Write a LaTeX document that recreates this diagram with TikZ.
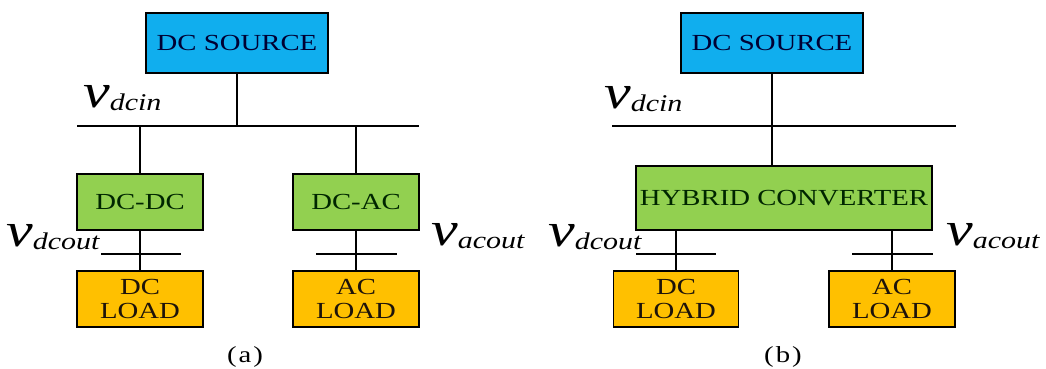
\documentclass[tikz,border=0pt]{standalone}
\usepackage{fontspec}
\setmainfont[FakeStretch=1.25]{Liberation Serif}
\definecolor{srcblue}{HTML}{10AEEE}
\definecolor{convgreen}{HTML}{92D050}
\definecolor{loadorange}{HTML}{FFC000}
\newcommand\vlab[1]{{\fontsize{48}{48}\selectfont\itshape v\raisebox{-3pt}{\fontsize{24}{24}\selectfont #1}}}
\tikzset{
  blk/.style={draw=black, line width=1.6pt, inner sep=0pt, align=center,
    font=\fontsize{23}{23.5}\selectfont},
  srcbox/.style={blk, fill=srcblue, text=black!80!blue, minimum width=182pt, minimum height=60pt},
  convbox/.style={blk, fill=convgreen, text=black!85!green, minimum width=126pt, minimum height=56pt},
  loadbox/.style={blk, fill=loadorange, text=black!85!brown, minimum width=126pt, minimum height=56pt},
  wire/.style={draw=black, line width=1.6pt},
  vlabel/.style={anchor=base west, inner sep=0pt},
  caplabel/.style={inner sep=0pt, font=\fontsize{23}{23}\selectfont}
}
\begin{document}
\begin{tikzpicture}[x=1pt,y=-1pt]
\useasboundingbox (0,0) rectangle (1046,369);
% ---------- panel (a) ----------
\node[srcbox] (srcA) at (237,43) {DC SOURCE};
\coordinate (busAL) at (77,126);
\coordinate (busAR) at (419,126);
\node[convbox] (dcdc) at (140,202) {DC-DC};
\node[convbox] (dcac) at (356,202) {DC-AC};
\node[loadbox] (dcloadA) at (140,299) {DC\\LOAD};
\node[loadbox] (acloadA) at (356,299) {AC\\LOAD};
\coordinate (tA1L) at (101,254);
\coordinate (tA1R) at (181,254);
\coordinate (tA2L) at (316,254);
\coordinate (tA2R) at (397,254);
\draw[wire] (busAL) -- (busAR);
\draw[wire] (srcA.south) -- (srcA.south |- busAL);
\draw[wire] (dcdc.north) -- (dcdc.north |- busAL);
\draw[wire] (dcac.north) -- (dcac.north |- busAL);
\draw[wire] (dcdc.south) -- (dcloadA.north);
\draw[wire] (dcac.south) -- (acloadA.north);
\draw[wire] (tA1L) -- (tA1R);
\draw[wire] (tA2L) -- (tA2R);
\node[vlabel] (vdcinA) at (83,107) {\vlab{dcin}};
\node[vlabel] (vdcoutA) at (6,246) {\vlab{dcout}};
\node[vlabel] (vacoutA) at (431,245) {\vlab{acout}};
\node[caplabel] (capA) at (245,357) {(\kern2pt a\kern2pt)};
% ---------- panel (b) ----------
\node[srcbox] (srcB) at (772,43) {DC SOURCE};
\coordinate (busBL) at (612,126);
\coordinate (busBR) at (956,126);
\node[convbox, minimum width=296pt, minimum height=64pt] (hyb) at (784,198) {HYBRID CONVERTER};
\node[loadbox, minimum width=125pt] (dcloadB) at (676,299) {DC\\LOAD};
\node[loadbox] (acloadB) at (892,299) {AC\\LOAD};
\coordinate (tB1L) at (636,254);
\coordinate (tB1R) at (716,254);
\coordinate (tB2L) at (852,254);
\coordinate (tB2R) at (933,254);
\draw[wire] (busBL) -- (busBR);
\draw[wire] (srcB.south) -- (srcB.south |- hyb.north);
\draw[wire] (dcloadB.north |- hyb.south) -- (dcloadB.north);
\draw[wire] (acloadB.north |- hyb.south) -- (acloadB.north);
\draw[wire] (tB1L) -- (tB1R);
\draw[wire] (tB2L) -- (tB2R);
\node[vlabel] (vdcinB) at (604,108) {\vlab{dcin}};
\node[vlabel] (vdcoutB) at (548,246) {\vlab{dcout}};
\node[vlabel] (vacoutB) at (946,245) {\vlab{acout}};
\node[caplabel] (capB) at (783,357) {(\kern2pt b\kern2pt)};
\end{tikzpicture}
\end{document}
